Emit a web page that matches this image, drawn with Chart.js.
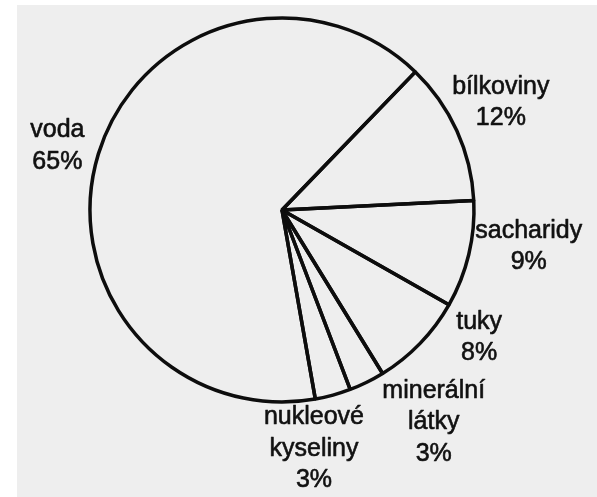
<!DOCTYPE html>
<html>
<head>
<meta charset="utf-8">
<script src="https://cdn.jsdelivr.net/npm/chart.js@4.4.1/dist/chart.umd.min.js"></script>
<style>
  html, body { margin: 0; padding: 0; background: #ffffff; }
  #wrap { position: relative; width: 597px; height: 497px; }
  canvas { position: absolute; left: 0; top: 0; }
</style>
</head>
<body>
<div id="wrap"><canvas id="c" width="597" height="497"></canvas></div>
<script>
// Categories (clockwise from the bílkoviny slice)
const categories = ["bílkoviny", "sacharidy", "tuky", "minerální látky", "nukleové kyseliny", "voda"];
// Label lines shown on the chart
const labelLines = [["bílkoviny"], ["sacharidy"], ["tuky"], ["minerální", "látky"], ["nukleové", "kyseliny"], ["voda"]];
// Percentages
const values = [12, 9, 8, 3, 3, 65];

// Label placement relative to outer midpoint of each slice (dx, dy)
const labelOffsets = [[44, -28], [60, -8], [59, -6], [67, 40], [-19, 54], [-41, -8]];

const pageBg = {
  id: 'pageBg',
  beforeDraw(chart) {
    const ctx = chart.ctx;
    ctx.save();
    ctx.fillStyle = '#ffffff';
    ctx.fillRect(0, 0, chart.width, chart.height);
    ctx.fillStyle = '#eeeeee';
    ctx.fillRect(17, 5, chart.width - 17, chart.height - 5);
    ctx.restore();
  }
};

const sliceLabels = {
  id: 'sliceLabels',
  afterDatasetsDraw(chart) {
    const ctx = chart.ctx;
    const meta = chart.getDatasetMeta(0);
    ctx.save();
    ctx.fillStyle = '#111111';
    ctx.strokeStyle = '#111111';
    ctx.lineWidth = 0.6;
    ctx.lineJoin = 'round';
    ctx.font = '25px "Liberation Sans", Arial, sans-serif';
    ctx.textAlign = 'center';
    ctx.textBaseline = 'middle';
    const lineH = 31.5;
    meta.data.forEach((arc, i) => {
      const p = arc.getProps(['x', 'y', 'startAngle', 'endAngle', 'outerRadius'], true);
      const mid = (p.startAngle + p.endAngle) / 2;
      const ex = p.x + Math.cos(mid) * p.outerRadius;
      const ey = p.y + Math.sin(mid) * p.outerRadius;
      const cx = ex + labelOffsets[i][0];
      const cy = ey + labelOffsets[i][1];
      const lines = labelLines[i].concat([values[i] + '%']);
      const top = cy - (lines.length - 1) * lineH / 2;
      lines.forEach((t, k) => {
        ctx.fillText(t, cx, top + k * lineH);
        ctx.strokeText(t, cx, top + k * lineH);
      });
    });
    ctx.restore();
  }
};

new Chart(document.getElementById('c'), {
  type: 'pie',
  data: {
    labels: categories,
    datasets: [{
      data: values,
      backgroundColor: 'rgba(0,0,0,0)',
      borderColor: '#0d0d0d',
      borderWidth: 3.5,
      radius: 192
    }]
  },
  options: {
    responsive: false,
    animation: false,
    rotation: 44,
    layout: { padding: { left: 0, right: 33, top: 0, bottom: 77 } },
    plugins: {
      legend: { display: false },
      tooltip: { enabled: false }
    },
    events: []
  },
  plugins: [pageBg, sliceLabels]
});
</script>
</body>
</html>
